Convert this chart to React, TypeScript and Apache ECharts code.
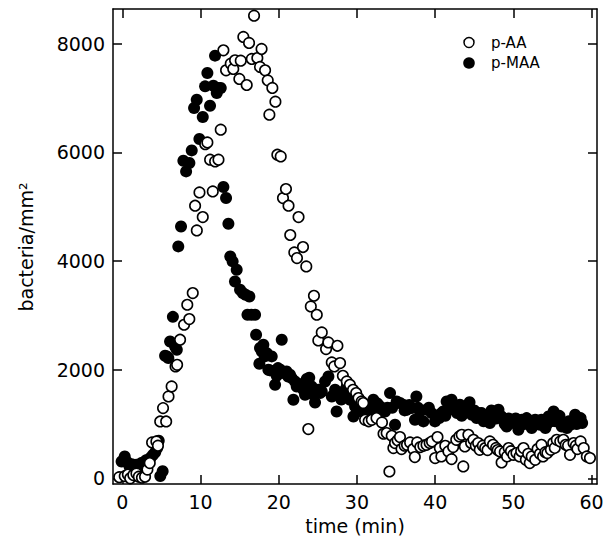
import React, { useEffect, useRef } from "react";
import * as echarts from "echarts";

const xTicks = [0, 10, 20, 30, 40, 50, 60];
const yTicks = [0, 2000, 4000, 6000, 8000];

// p-AA (open circles): [time (min), bacteria/mm^2]
const pAA: [number, number][] = [
  [-0.4, 20], [0.3, 40], [0.7, 70], [1.0, 0], [1.4, 60], [1.8, 90], [2.1, 30], [2.5, 10], [2.9, 30],
  [3.2, 160], [3.5, 280], [3.8, 660], [4.35, 678], [4.55, 600],
  [4.84, 1046], [5.2, 1292], [5.6, 1046], [5.9, 1507], [6.3, 1691], [6.8, 2060], [7.0, 2090], [7.38, 2551],
  [7.89, 2827], [8.3, 3195], [8.56, 2932], [9.0, 3411], [9.3, 5018], [9.52, 4564], [9.86, 5263], [10.28, 4810],
  [10.6, 6150], [10.87, 6184], [11.22, 5866], [11.56, 5282], [11.86, 5834], [12.29, 5866], [12.58, 6418],
  [12.92, 7879], [13.26, 7511], [13.86, 7634], [14.18, 7536], [14.41, 7695], [14.96, 7352], [15.14, 7689],
  [15.47, 8125], [15.9, 7241], [16.2, 8015], [16.55, 7720], [16.84, 8517], [17.26, 7738], [17.6, 7573],
  [17.8, 7904], [18.25, 7511], [18.59, 7326], [18.8, 6694], [19.18, 7186], [19.57, 6934], [19.82, 5957],
  [20.25, 5926], [20.54, 5160], [20.92, 5326], [21.25, 5018], [21.47, 4479], [21.99, 4158], [22.33, 4055],
  [22.53, 4810], [23.1, 4258], [23.52, 3900], [23.78, 906], [24.1, 3164], [24.5, 3361], [24.86, 3011],
  [25.06, 2538], [25.5, 2685], [26.05, 2379], [26.34, 2501], [26.78, 2133], [27.1, 2059], [27.5, 2440],
  [27.84, 2121], [28.2, 1888], [28.7, 1783], [29.1, 1722], [29.5, 1630], [29.9, 1569], [30.2, 1477],
  [30.6, 1415], [30.8, 1385], [31.04, 1077], [31.5, 1050], [31.9, 1077], [32.5, 1108], [33.2, 1028],
  [33.4, 820], [33.8, 832], [34.15, 125], [34.45, 783], [34.66, 556], [34.87, 648], [35.2, 700], [35.5, 759],
  [35.7, 538], [36.1, 600], [36.4, 617], [36.8, 660], [37.2, 538], [37.4, 390], [37.7, 660], [38.1, 575],
  [38.5, 600], [38.9, 617], [39.3, 650], [39.6, 678], [40.0, 372], [40.3, 759], [40.6, 556], [40.8, 402],
  [41.3, 599], [41.7, 494], [42.1, 353], [42.3, 575], [42.7, 709], [43.1, 770], [43.4, 801], [43.6, 218],
  [43.8, 586], [44.25, 801], [44.6, 650], [44.9, 709], [45.2, 600], [45.5, 648], [45.7, 525], [46.1, 600],
  [46.4, 556], [46.7, 520], [47.0, 678], [47.4, 617], [47.8, 560], [48.0, 520], [48.3, 494], [48.5, 291],
  [48.9, 480], [49.2, 402], [49.4, 556], [49.7, 500], [50.0, 433], [50.4, 464], [50.8, 402], [51.0, 500],
  [51.3, 556], [51.6, 341], [51.9, 450], [52.1, 280], [52.35, 402], [52.8, 341], [53.1, 538], [53.4, 450],
  [53.6, 617], [53.8, 402], [54.1, 480], [54.35, 464], [54.8, 525], [55.1, 648], [55.3, 560], [55.55, 709],
  [56.0, 678], [56.4, 709], [56.7, 617], [57.0, 600], [57.25, 433], [57.7, 648], [58.0, 600], [58.2, 538],
  [58.6, 678], [59.0, 556], [59.4, 402], [59.8, 372],
];

// p-MAA (filled circles): [time (min), bacteria/mm^2]
const pMAA: [number, number][] = [
  [-0.1, 310], [0.3, 400], [0.6, 300], [0.9, 220], [1.2, 260], [1.5, 180], [1.8, 250], [2.1, 210], [2.4, 280],
  [2.7, 250], [3.0, 330], [3.3, 300], [3.6, 380], [3.9, 430], [4.2, 480], [4.45, 560], [4.65, 690], [4.85, 40],
  [5.15, 130], [5.46, 2256], [5.7, 2244], [5.88, 2213], [6.1, 2519], [6.46, 2972], [6.74, 2427], [6.96, 2367],
  [7.15, 4269], [7.5, 4637], [7.8, 5847], [8.15, 5650], [8.57, 5805], [8.87, 6037], [9.17, 6818], [9.51, 6970],
  [9.85, 6247], [10.28, 6652], [10.58, 7216], [10.87, 7462], [11.21, 6860], [11.64, 7228], [11.85, 7781],
  [12.07, 7094], [12.28, 7186], [12.58, 7186], [12.92, 5363], [13.26, 5160], [13.56, 4687], [13.8, 4085],
  [14.1, 3993], [14.4, 3624], [14.62, 3840], [15.05, 3471], [15.4, 3411], [15.75, 3380], [16.0, 3011],
  [16.24, 3348], [16.5, 3011], [16.97, 3011], [17.1, 2643], [17.52, 2109], [17.6, 2398], [17.83, 2336],
  [18.03, 2459], [18.2, 2244], [18.47, 2305], [18.67, 1998], [18.89, 1986], [19.1, 2244], [19.53, 1722],
  [19.74, 1888], [19.9, 2029], [20.2, 1998], [20.38, 2551], [20.6, 1937], [21.0, 1967], [21.2, 1875],
  [21.44, 1906], [21.66, 1845], [21.87, 1446], [22.08, 1783], [22.3, 1691], [22.5, 1740], [22.94, 1680],
  [23.15, 1630], [23.36, 1538], [23.58, 1827], [23.9, 1850], [24.2, 1691], [24.43, 1538], [24.64, 1396],
  [24.9, 1600], [25.07, 1630], [25.28, 1569], [25.5, 1599], [25.92, 1783], [26.35, 1875], [26.78, 1507],
  [27.2, 1630], [27.4, 1230], [27.63, 1569], [28.0, 1450], [28.27, 1599], [28.69, 1691], [29.12, 1446],
  [29.35, 1550], [29.55, 1139], [29.76, 1323], [30.18, 1446], [30.4, 1350], [30.61, 1231], [31.04, 1354],
  [31.25, 1200], [31.67, 1323], [32.1, 1446], [32.31, 1231], [32.6, 1380], [32.95, 1323], [33.3, 1250],
  [33.59, 1231], [33.9, 1300], [34.23, 1569], [34.5, 1300], [34.87, 985], [35.08, 1415], [35.5, 1385],
  [35.9, 1354], [36.1, 1250], [36.36, 1262], [36.7, 1350], [37.0, 1292], [37.42, 1077], [37.6, 1507],
  [37.8, 1300], [38.06, 1231], [38.5, 1047], [38.9, 1262], [39.2, 1300], [39.56, 1200], [39.98, 1047],
  [40.3, 1150], [40.53, 1108], [40.8, 1200], [41.04, 1231], [41.3, 1150], [41.47, 1415], [41.8, 1300],
  [42.1, 1446], [42.4, 1262], [42.8, 1200], [43.17, 1354], [43.4, 1150], [43.6, 1200], [44.03, 1231],
  [44.4, 1400], [44.7, 1169], [45.0, 1250], [45.3, 1108], [45.6, 1200], [45.96, 1200], [46.2, 1050],
  [46.38, 1077], [46.7, 1150], [47.0, 1017], [47.2, 1250], [47.45, 1200], [47.8, 1100], [48.1, 1262],
  [48.4, 1150], [48.7, 1108], [48.9, 1000], [49.15, 954], [49.4, 1100], [49.6, 1047], [50.0, 1017],
  [50.3, 1100], [50.65, 893], [50.9, 1000], [51.1, 1077], [51.4, 1000], [51.7, 1108], [52.0, 1050],
  [52.35, 924], [52.6, 1000], [52.8, 1077], [53.1, 1000], [53.4, 985], [53.6, 1080], [53.8, 1050],
  [54.1, 924], [54.3, 1000], [54.5, 1139], [54.8, 1050], [55.0, 1100], [55.15, 1231], [55.4, 1050],
  [55.6, 1077], [55.9, 1150], [56.2, 954], [56.5, 1000], [56.85, 924], [57.1, 1050], [57.3, 985],
  [57.6, 1050], [57.9, 1169], [58.1, 1000], [58.35, 1047], [58.6, 1108], [58.8, 1017],
];

const FONT = "DejaVu Sans";

export default function App() {
  const ref = useRef<HTMLDivElement>(null);

  useEffect(() => {
    if (!ref.current) return;
    const chart = echarts.init(ref.current, null, { renderer: "svg" });
    const line = { color: "#000", width: 1.5 };
    const xBase = {
      type: "value" as const,
      min: -1.2,
      max: 60.7,
      splitLine: { show: false },
      axisLine: { show: true, onZero: false, lineStyle: line },
      axisTick: { show: true, inside: true, length: 9, customValues: xTicks, lineStyle: line },
    };
    const yBase = {
      type: "value" as const,
      min: -105,
      max: 8640,
      splitLine: { show: false },
      axisLine: { show: true, onZero: false, lineStyle: line },
      axisTick: { show: true, inside: true, length: 9, customValues: yTicks, lineStyle: line },
    };
    chart.setOption({
      animation: false,
      backgroundColor: "#ffffff",
      grid: { left: 113, right: 12, top: 9, bottom: 70, containLabel: false },
      xAxis: [
        {
          ...xBase,
          position: "bottom",
          axisLabel: {
            show: true,
            customValues: xTicks,
            formatter: (v: number) => String(v),
            color: "#000",
            fontFamily: FONT,
            fontSize: 19,
            margin: 8,
          },
        },
        { ...xBase, position: "top", axisLabel: { show: false } },
      ],
      yAxis: [
        {
          ...yBase,
          position: "left",
          axisLabel: {
            show: true,
            customValues: yTicks,
            formatter: (v: number) => String(v),
            color: "#000",
            fontFamily: FONT,
            fontSize: 19,
            margin: 8,
          },
        },
        { ...yBase, position: "right", axisLabel: { show: false } },
      ],
      series: [
        {
          type: "scatter",
          name: "p-MAA",
          data: pMAA,
          symbol: "circle",
          symbolSize: 12,
          itemStyle: { color: "#000", opacity: 1 },
          z: 2,
        },
        {
          type: "scatter",
          name: "p-AA",
          data: pAA,
          symbol: "circle",
          symbolSize: 10.5,
          itemStyle: { color: "#fff", borderColor: "#000", borderWidth: 1.6, opacity: 1 },
          z: 3,
        },
      ],
      graphic: [
        {
          type: "circle",
          shape: { cx: 469, cy: 42.5, r: 5 },
          style: { fill: "#fff", stroke: "#000", lineWidth: 1.5 },
        },
        {
          type: "circle",
          shape: { cx: 469, cy: 63, r: 5.8 },
          style: { fill: "#000" },
        },
        {
          type: "text",
          x: 491,
          y: 42.5,
          style: { text: "p-AA", fill: "#000", font: `15px "${FONT}"`, align: "left", verticalAlign: "middle" },
        },
        {
          type: "text",
          x: 491,
          y: 63,
          style: { text: "p-MAA", fill: "#000", font: `15px "${FONT}"`, align: "left", verticalAlign: "middle" },
        },
        {
          type: "text",
          x: 355,
          y: 526,
          style: { text: "time (min)", fill: "#000", font: `19px "${FONT}"`, align: "center", verticalAlign: "middle" },
        },
        {
          type: "text",
          x: 26,
          y: 247,
          rotation: Math.PI / 2,
          style: { text: "bacteria/mm²", fill: "#000", font: `19px "${FONT}"`, align: "center", verticalAlign: "middle" },
        },
      ],
    });
    return () => chart.dispose();
  }, []);

  return <div ref={ref} style={{ position: "fixed", left: 0, top: 0, width: 609, height: 554 }} />;
}
